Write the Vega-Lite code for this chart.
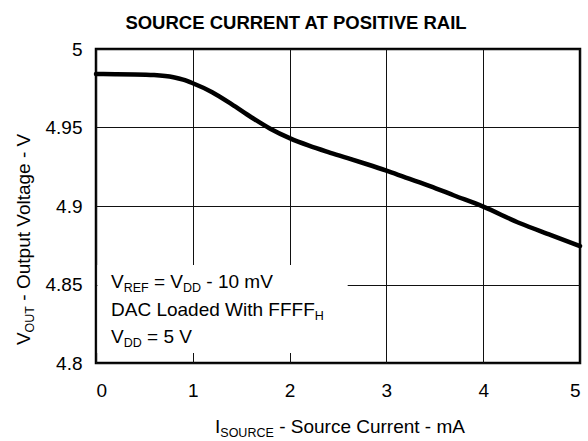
{
  "$schema": "https://vega.github.io/schema/vega-lite/v6.json",
  "width": 484,
  "height": 314,
  "autosize": {"type": "none"},
  "padding": {"left": 96, "top": 49, "right": 8, "bottom": 78},
  "background": "white",
  "title": {
    "text": "SOURCE CURRENT AT POSITIVE RAIL",
    "font": "Liberation Sans",
    "fontSize": 18.5,
    "fontWeight": "bold",
    "color": "black",
    "anchor": "middle",
    "offset": 8,
    "dx": -42
  },
  "config": {
    "view": {"stroke": "black", "strokeWidth": 2.5},
    "axis": {
      "labelFont": "Liberation Sans",
      "labelFontSize": 19,
      "labelColor": "black",
      "grid": true,
      "gridColor": "#111111",
      "gridWidth": 1,
      "gridOpacity": 1,
      "domain": false,
      "ticks": false,
      "tickSize": 0
    },
    "text": {"font": "Liberation Sans", "color": "black"}
  },
  "datasets": {
    "curve": [
      {"i": 0.0, "v": 4.9841},
      {"i": 0.2, "v": 4.9839},
      {"i": 0.4, "v": 4.9838},
      {"i": 0.6, "v": 4.9834},
      {"i": 0.8, "v": 4.9820},
      {"i": 0.9, "v": 4.9805},
      {"i": 1.0, "v": 4.9782},
      {"i": 1.2, "v": 4.9725},
      {"i": 1.4, "v": 4.9649},
      {"i": 1.6, "v": 4.9567},
      {"i": 1.8, "v": 4.9492},
      {"i": 2.0, "v": 4.9432},
      {"i": 2.2, "v": 4.9384},
      {"i": 2.4, "v": 4.9343},
      {"i": 2.6, "v": 4.9305},
      {"i": 2.8, "v": 4.9266},
      {"i": 3.0, "v": 4.9225},
      {"i": 3.2, "v": 4.9181},
      {"i": 3.45, "v": 4.9127},
      {"i": 3.7, "v": 4.9067},
      {"i": 4.0, "v": 4.8996},
      {"i": 4.38, "v": 4.8890},
      {"i": 4.7, "v": 4.8815},
      {"i": 5.0, "v": 4.8745}
    ],
    "box": [{"x0": 0.015, "x1": 2.6, "y0": 4.8064, "y1": 4.8624}],
    "main": [
      {"x": 0.155, "y": 4.8478, "t": "V"},
      {"x": 0.599, "y": 4.8478, "t": "= V"},
      {"x": 1.140, "y": 4.8478, "t": "- 10 mV"},
      {"x": 0.155, "y": 4.8299, "t": "DAC Loaded With FFFF"},
      {"x": 0.155, "y": 4.8127, "t": "V"},
      {"x": 0.527, "y": 4.8127, "t": "= 5 V"},
      {"x": 1.229, "y": 4.7554, "t": "I"},
      {"x": 1.892, "y": 4.7554, "t": "- Source Current - mA"}
    ],
    "sub": [
      {"x": 0.286, "y": 4.8478, "t": "REF"},
      {"x": 0.899, "y": 4.8478, "t": "DD"},
      {"x": 2.260, "y": 4.8299, "t": "H"},
      {"x": 0.286, "y": 4.8127, "t": "DD"},
      {"x": 1.284, "y": 4.7554, "t": "SOURCE"}
    ],
    "ymain": [
      {"x": -0.68, "y": 4.8114, "t": "V"},
      {"x": -0.68, "y": 4.8397, "t": "- Output Voltage - V"}
    ],
    "ysub": [
      {"x": -0.68, "y": 4.8194, "t": "OUT"}
    ]
  },
  "layer": [
    {
      "data": {"name": "curve"},
      "mark": {"type": "line", "color": "black", "strokeWidth": 4.5, "interpolate": "monotone", "strokeCap": "round"},
      "encoding": {
        "x": {"field": "i", "type": "quantitative", "scale": {"domain": [0, 5], "nice": false},
              "axis": {"values": [0, 1, 2, 3, 4, 5], "title": null, "labelPadding": 18, "format": "d"}},
        "y": {"field": "v", "type": "quantitative", "scale": {"domain": [4.8, 5], "nice": false, "zero": false},
              "axis": {"values": [4.8, 4.85, 4.9, 4.95, 5], "title": null, "labelPadding": 14, "format": ".2~f"}}
      }
    },
    {
      "data": {"name": "box"},
      "mark": {"type": "rect", "fill": "white", "stroke": null},
      "encoding": {
        "x": {"field": "x0", "type": "quantitative"},
        "x2": {"field": "x1"},
        "y": {"field": "y0", "type": "quantitative"},
        "y2": {"field": "y1"}
      }
    },
    {
      "data": {"name": "main"},
      "mark": {"type": "text", "fontSize": 19, "align": "left", "baseline": "alphabetic"},
      "encoding": {
        "x": {"field": "x", "type": "quantitative"},
        "y": {"field": "y", "type": "quantitative"},
        "text": {"field": "t"}
      }
    },
    {
      "data": {"name": "sub"},
      "mark": {"type": "text", "fontSize": 12.5, "align": "left", "baseline": "alphabetic", "dy": 4},
      "encoding": {
        "x": {"field": "x", "type": "quantitative"},
        "y": {"field": "y", "type": "quantitative"},
        "text": {"field": "t"}
      }
    },
    {
      "data": {"name": "ymain"},
      "mark": {"type": "text", "fontSize": 19, "align": "left", "baseline": "alphabetic", "angle": 270},
      "encoding": {
        "x": {"field": "x", "type": "quantitative"},
        "y": {"field": "y", "type": "quantitative"},
        "text": {"field": "t"}
      }
    },
    {
      "data": {"name": "ysub"},
      "mark": {"type": "text", "fontSize": 12.5, "align": "left", "baseline": "alphabetic", "angle": 270, "dy": 4},
      "encoding": {
        "x": {"field": "x", "type": "quantitative"},
        "y": {"field": "y", "type": "quantitative"},
        "text": {"field": "t"}
      }
    }
  ]
}
